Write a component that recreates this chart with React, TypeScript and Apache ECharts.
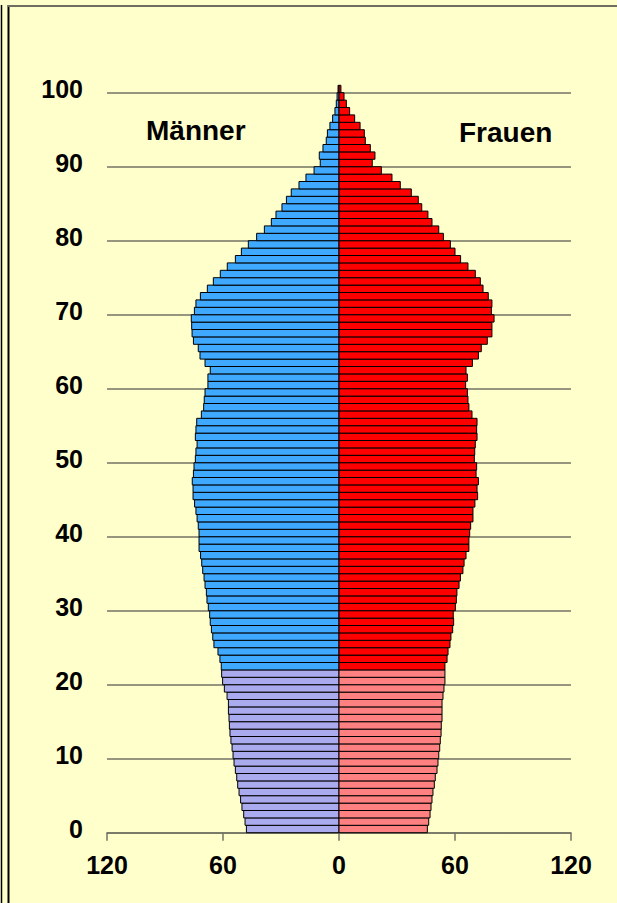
import React, { useEffect, useRef } from "react";
import * as echarts from "echarts";

const ages: number[] = Array.from({ length: 101 }, (_, i) => i);

const maleValues: number[] = [
  47.9, 48.6, 49.3, 50.2, 50.9, 51.7, 52.4, 52.9, 53.6, 54.3,
  54.8, 55.3, 55.9, 56.4, 56.7, 56.9, 57.2, 57.2, 57.9, 59.3,
  60.2, 60.7, 60.9, 61.6, 62.6, 64.7, 65.3, 66.0, 66.6, 66.9,
  67.6, 68.3, 68.6, 69.3, 69.8, 70.5, 71.0, 71.6, 72.4, 72.4,
  72.4, 72.8, 73.4, 74.0, 74.7, 75.5, 75.5, 75.9, 75.3, 75.0,
  74.3, 74.0, 73.4, 74.3, 74.0, 73.6, 71.2, 70.0, 69.7, 69.3,
  67.8, 67.8, 66.6, 69.3, 71.9, 72.8, 75.3, 76.0, 76.2, 76.4,
  74.8, 74.0, 71.7, 68.1, 65.0, 61.4, 57.8, 53.6, 50.5, 46.9,
  42.6, 38.6, 35.0, 32.6, 29.5, 27.2, 24.7, 20.7, 17.1, 12.9,
  9.7, 10.2, 8.3, 6.6, 6.0, 4.7, 3.3, 2.1, 1.4, 1.0,
  0.5,
];

const femaleValues: number[] = [
  45.7, 46.4, 47.1, 47.6, 48.1, 48.6, 49.3, 49.8, 50.7, 51.2,
  51.6, 52.1, 52.4, 52.8, 52.9, 53.3, 53.3, 53.3, 53.8, 54.3,
  54.8, 54.8, 54.8, 55.9, 56.4, 57.4, 57.9, 58.8, 59.3, 59.1,
  60.2, 60.7, 61.0, 62.1, 62.8, 64.1, 64.7, 65.7, 67.2, 67.2,
  67.6, 68.1, 69.3, 69.3, 70.3, 71.7, 71.4, 72.1, 70.9, 71.2,
  70.0, 70.2, 70.5, 71.4, 71.2, 71.4, 68.8, 67.2, 66.7, 66.4,
  65.5, 66.4, 65.7, 69.0, 72.1, 73.6, 76.7, 79.1, 79.1, 80.2,
  78.8, 79.1, 77.2, 74.5, 73.1, 70.5, 66.7, 62.9, 60.0, 57.6,
  54.0, 51.6, 48.1, 46.0, 42.8, 41.0, 37.4, 31.7, 27.4, 21.9,
  17.2, 18.6, 16.2, 13.6, 13.1, 10.9, 8.1, 5.5, 3.8, 2.6,
  1.0,
];

// ages below this value are drawn in the lighter shade
const youngLimit = 22;

const labelMale = "Männer";
const labelFemale = "Frauen";

const COLORS = {
  male: "#3FA8FF",
  maleLight: "#AAAAEE",
  female: "#FF0000",
  femaleLight: "#FF8080",
};

function makeRender(dark: string, light: string) {
  return (params: any, api: any) => {
    const age = api.value(0) as number;
    const v = api.value(1) as number;
    const p0 = api.coord([0, age]);
    const p1 = api.coord([v, age + 1]);
    return {
      type: "rect",
      shape: {
        x: Math.min(p0[0], p1[0]),
        y: Math.min(p0[1], p1[1]),
        width: Math.abs(p1[0] - p0[0]),
        height: Math.abs(p1[1] - p0[1]),
      },
      style: {
        fill: age < youngLimit ? light : dark,
        stroke: "#000",
        lineWidth: 1,
      },
    };
  };
}

export default function App() {
  const ref = useRef<HTMLDivElement>(null);

  useEffect(() => {
    if (!ref.current) return;
    const chart = echarts.init(ref.current, undefined, { renderer: "svg" });
    const font = "Arial, 'Liberation Sans', sans-serif";
    const axisColor = "#737364";
    chart.setOption({
      animation: false,
      backgroundColor: "#FFFFCC",
      grid: { left: 107, right: 46, top: 92.7, bottom: 70.3, containLabel: false },
      xAxis: {
        type: "value",
        min: -120,
        max: 120,
        interval: 60,
        axisLine: { show: true, lineStyle: { color: axisColor, width: 1.5 } },
        axisTick: { show: true, length: 8, lineStyle: { color: axisColor, width: 1.5 } },
        splitLine: { show: false },
        axisLabel: {
          fontFamily: font,
          fontSize: 25,
          fontWeight: "bold",
          color: "#000",
          margin: 20,
          formatter: (v: number) => String(Math.abs(v)),
        },
      },
      yAxis: {
        type: "value",
        min: 0,
        max: 100,
        interval: 10,
        axisLine: { show: false },
        axisTick: { show: false },
        splitLine: { show: true, lineStyle: { color: axisColor, width: 1.5 } },
        axisLabel: {
          fontFamily: font,
          fontSize: 25,
          fontWeight: "bold",
          color: "#000",
          margin: 24,
          verticalAlign: "bottom",
          lineHeight: 8,
        },
      },
      series: [
        {
          type: "custom",
          name: labelMale,
          renderItem: makeRender(COLORS.male, COLORS.maleLight),
          encode: { x: 1, y: 0 },
          data: ages.map((a, i) => [a, -maleValues[i]]),
          clip: false,
        },
        {
          type: "custom",
          name: labelFemale,
          renderItem: makeRender(COLORS.female, COLORS.femaleLight),
          encode: { x: 1, y: 0 },
          data: ages.map((a, i) => [a, femaleValues[i]]),
          clip: false,
        },
      ],
      graphic: [
        { type: "line", shape: { x1: 1.5, y1: 5, x2: 1.5, y2: 903 }, style: { stroke: "#000", lineWidth: 1.5 } },
        { type: "line", shape: { x1: 8.5, y1: 5, x2: 8.5, y2: 903 }, style: { stroke: "#000", lineWidth: 2 } },
        { type: "line", shape: { x1: 8, y1: 6, x2: 617, y2: 6 }, style: { stroke: "#6E6E60", lineWidth: 2 } },
        {
          type: "text",
          x: 146,
          y: 130,
          style: {
            text: labelMale,
            font: "bold 28px Arial, 'Liberation Sans', sans-serif",
            fill: "#000",
            verticalAlign: "middle",
          },
        },
        {
          type: "text",
          x: 459,
          y: 132,
          style: {
            text: labelFemale,
            font: "bold 28px Arial, 'Liberation Sans', sans-serif",
            fill: "#000",
            verticalAlign: "middle",
          },
        },
      ],
    });
    return () => chart.dispose();
  }, []);

  return (
    <div
      ref={ref}
      style={{ position: "absolute", left: 0, top: 0, width: 617, height: 903 }}
    />
  );
}
